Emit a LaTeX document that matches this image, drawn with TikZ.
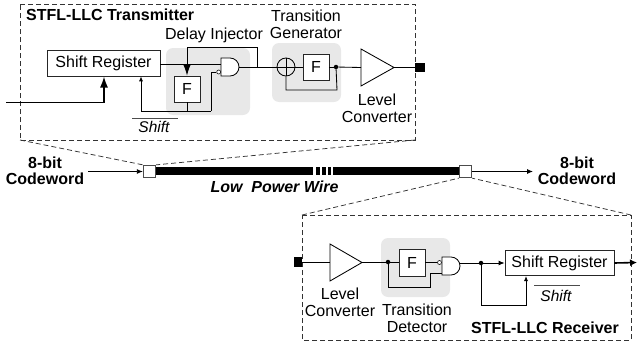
\documentclass[tikz,border=0pt]{standalone}
\usepackage{fontspec}
\setmainfont{Liberation Sans}
\usetikzlibrary{arrows.meta}
\tikzset{
  x=1pt,y=-1pt,
  dbox/.style={draw=black!80,dash pattern=on 5pt off 3pt,line width=0.75pt},
  wire/.style={draw=black,line width=0.85pt},
  thick wire/.style={draw=black,line width=1.6pt},
  arr/.style={-{Latex[length=6pt,width=5pt]}},
  midarr/.style={-{Latex[length=5pt,width=4pt]}},
  bigarr/.style={-{Latex[length=11pt,width=8pt]}},
  blk/.style={draw=black!85,fill=white,line width=0.85pt,inner sep=0pt,minimum width=26pt,minimum height=26pt,font=\fontsize{16}{16}\selectfont},
  reg/.style={draw=black!85,fill=white,line width=0.85pt,inner sep=0pt,minimum height=25.5pt,font=\fontsize{16}{16}\selectfont},
  grayreg/.style={fill=black!9,rounded corners=7pt,draw=none},
  lbl/.style={inner sep=0pt,font=\fontsize{16}{17.3}\selectfont,align=center},
  bld/.style={inner sep=0pt,font=\fontsize{16}{16}\bfseries\selectfont,align=center},
  pad/.style={draw=black!70,fill=white,line width=0.8pt,inner sep=0pt,minimum size=12.5pt},
  dotj/.style={circle,fill=black,inner sep=0pt,minimum size=4.5pt},
  bubble/.style={circle,draw=black!85,fill=white,line width=0.7pt,inner sep=0pt,minimum size=4pt},
  term/.style={fill=black,inner sep=0pt,minimum width=10pt,minimum height=9.5pt},
  ovl/.style={line width=0.7pt,draw=black!70},
  ital/.style={inner sep=0pt,font=\fontsize{15.5}{16}\itshape\selectfont},
}
\begin{document}
\begin{tikzpicture}
\useasboundingbox (0,0) rectangle (637,343);
% callout corners
\coordinate (ta) at (20,4); \coordinate (tb) at (415,4); \coordinate (tc) at (415,140); \coordinate (td) at (20,140);
\coordinate (ra) at (302,215); \coordinate (rb) at (631,215); \coordinate (rc) at (631,340); \coordinate (rd) at (302,340);
% gray regions
\fill[grayreg] (166,48) rectangle (250,115);
\fill[grayreg] (272,43) rectangle (341,102);
\fill[grayreg] (381,238) rectangle (450,297);
% Wire
\fill[black] (155,167) rectangle (313,175);
\fill[black] (316,167) rectangle (320,175);
\fill[black] (322,167) rectangle (326,175);
\fill[black] (328,167) rectangle (331,175);
\fill[black] (333,167) rectangle (460,175);
\node[pad] (pl) at (149.5,171.5) {};
\node[pad] (pr) at (465.5,171.5) {};
\draw[dbox] (ta)--(tb)--(tc)--(td)--cycle;
\draw[dbox] (ra)--(rb)--(rc)--(rd)--cycle;
\draw[dbox] (td)--(pl.north west);
\draw[dbox] (tc)--(pl.north east);
\draw[dbox] (ra)--(pr.south west);
\draw[dbox] (rb)--(pr.south east);
\node[bld] (cwl) at (45,170.5) {8-bit\\Codeword};
\node[bld] (cwr) at (577,170.5) {8-bit\\Codeword};
\coordinate (cwls) at (88,171.5);
\coordinate (cwre) at (533,171.5);
\draw[wire,arr] (cwls) -- (pl.west);
\draw[wire,arr] (pr.east) -- (cwre);
\node[inner sep=0pt,font=\fontsize{16}{16}\bfseries\itshape\selectfont] (lpw) at (274.5,187) {Low\ \ Power Wire};
% Transmitter
\node[bld,anchor=west] (ttl) at (26,15) {STFL-LLC Transmitter};
\node[reg,minimum width=113pt] (srt) at (103.5,63.5) {Shift Register};
\node[blk] (ft) at (187,89) {F};
\node[blk] (gt) at (316,67) {F};
\node[lbl] (dil) at (214,35) {Delay Injector};
\node[lbl] (tgl) at (306,24.5) {Transition\\Generator};
\node[lbl] (lcl) at (377,108) {Level\\Converter};
\node[ital] (sht) at (154,127) {Shift};
\coordinate (ost) at (132,118); \coordinate (oet) at (178,118);
\draw[ovl] (ost) -- (oet);
% AND gate transmitter
\draw[wire,fill=white] (221,58) -- (230,58) arc (90:-90:9pt) -- (221,76) -- cycle;
\node[bubble] (bt) at (218.7,72) {};
\coordinate (agin) at (221,64);
\coordinate (agout) at (239,67);
\draw[wire] (srt.east |- agin) -- (agin);
\node[circle,draw=black,line width=0.85pt,minimum size=18pt,inner sep=0pt] (xo) at (286,67) {};
\draw[wire] (agout) -- (xo.west);
\coordinate (j1) at (257,67);
\coordinate (tp) at (187,47.5);
\draw[wire] (j1) -- (257,47.5) -- (tp);
\draw[wire,-{Latex[length=11pt,width=7.5pt]}] (tp) -- (ft.north);
\draw[wire] (ft.south) -- (187,111);
\coordinate (cn) at (211,111);
\draw[wire] (bt.west) -- (211,72) -- (cn);
\draw[wire,midarr] (cn) -- (141,111) -- (141,76.3);
\coordinate (cin) at (6,102.5);
\draw[thick wire,bigarr] (cin) -- (104,102.5) -- (104,76.5);
% Transition generator
\draw[wire] (xo.north) -- (xo.south);
\draw[wire] (xo.west) -- (gt.west);
\node[dotj] (jg) at (336,67) {};
\draw[wire] (gt.east) -- (jg);
\draw[wire] (jg) -- (337,90) -- (286,90) -- (xo.south);
% buffer t
\draw[wire,fill=white] (361,49) -- (394,67.5) -- (361,86) -- cycle;
\coordinate (bti) at (361,67.5); \coordinate (bto) at (394,67.5);
\node[term] (tot) at (420,67.5) {};
\draw[wire] (jg) -- (bti);
\draw[wire] (bto) -- (tot);
% Receiver
\node[term,minimum width=8pt] (tir) at (298,262) {};
\draw[wire,fill=white] (330,244) -- (362,262.5) -- (330,281) -- cycle;
\coordinate (bri) at (330,262); \coordinate (bro) at (362,262);
\draw[wire] (tir) -- (bri);
\node[lbl] (lcr) at (340,302) {Level\\Converter};
\node[lbl] (tdr) at (417,318.5) {Transition\\Detector};
\node[blk,minimum height=27pt] (fr) at (412,262.5) {F};
\node[dotj] (jr) at (388,262) {};
\draw[wire] (bro) -- (jr) -- (fr.west |- jr);
\draw[wire,fill=white] (442,257) -- (451,257) arc (90:-90:9pt) -- (442,275) -- cycle;
\node[bubble] (br) at (439.5,262.5) {};
\draw[wire] (fr.east |- br) -- (br);
\coordinate (arin) at (442,273);
\draw[wire] (jr) -- (388,287) -- (430,287) -- (430,273) -- (arin);
\node[reg,minimum width=109pt] (srr) at (559.5,263) {Shift Register};
\node[dotj] (jr2) at (481,263) {};
\coordinate (arout) at (460,263);
\draw[wire] (arout) -- (jr2);
\draw[wire,arr] (jr2) -- (srr.west);
\draw[wire,midarr] (jr2) -- (481,305) -- (526,305) -- (526,276);
\node[ital] (shr) at (556,296) {Shift};
\coordinate (osr) at (534,285); \coordinate (oer) at (580,285);
\draw[ovl] (osr) -- (oer);
\node[bld] (ttr) at (545,328) {STFL-LLC Receiver};
\coordinate (sre) at (637,262.5);
\draw[thick wire,-{Latex[length=7pt,width=7pt]}] (srr.east) -- (sre);
\end{tikzpicture}
\end{document}
